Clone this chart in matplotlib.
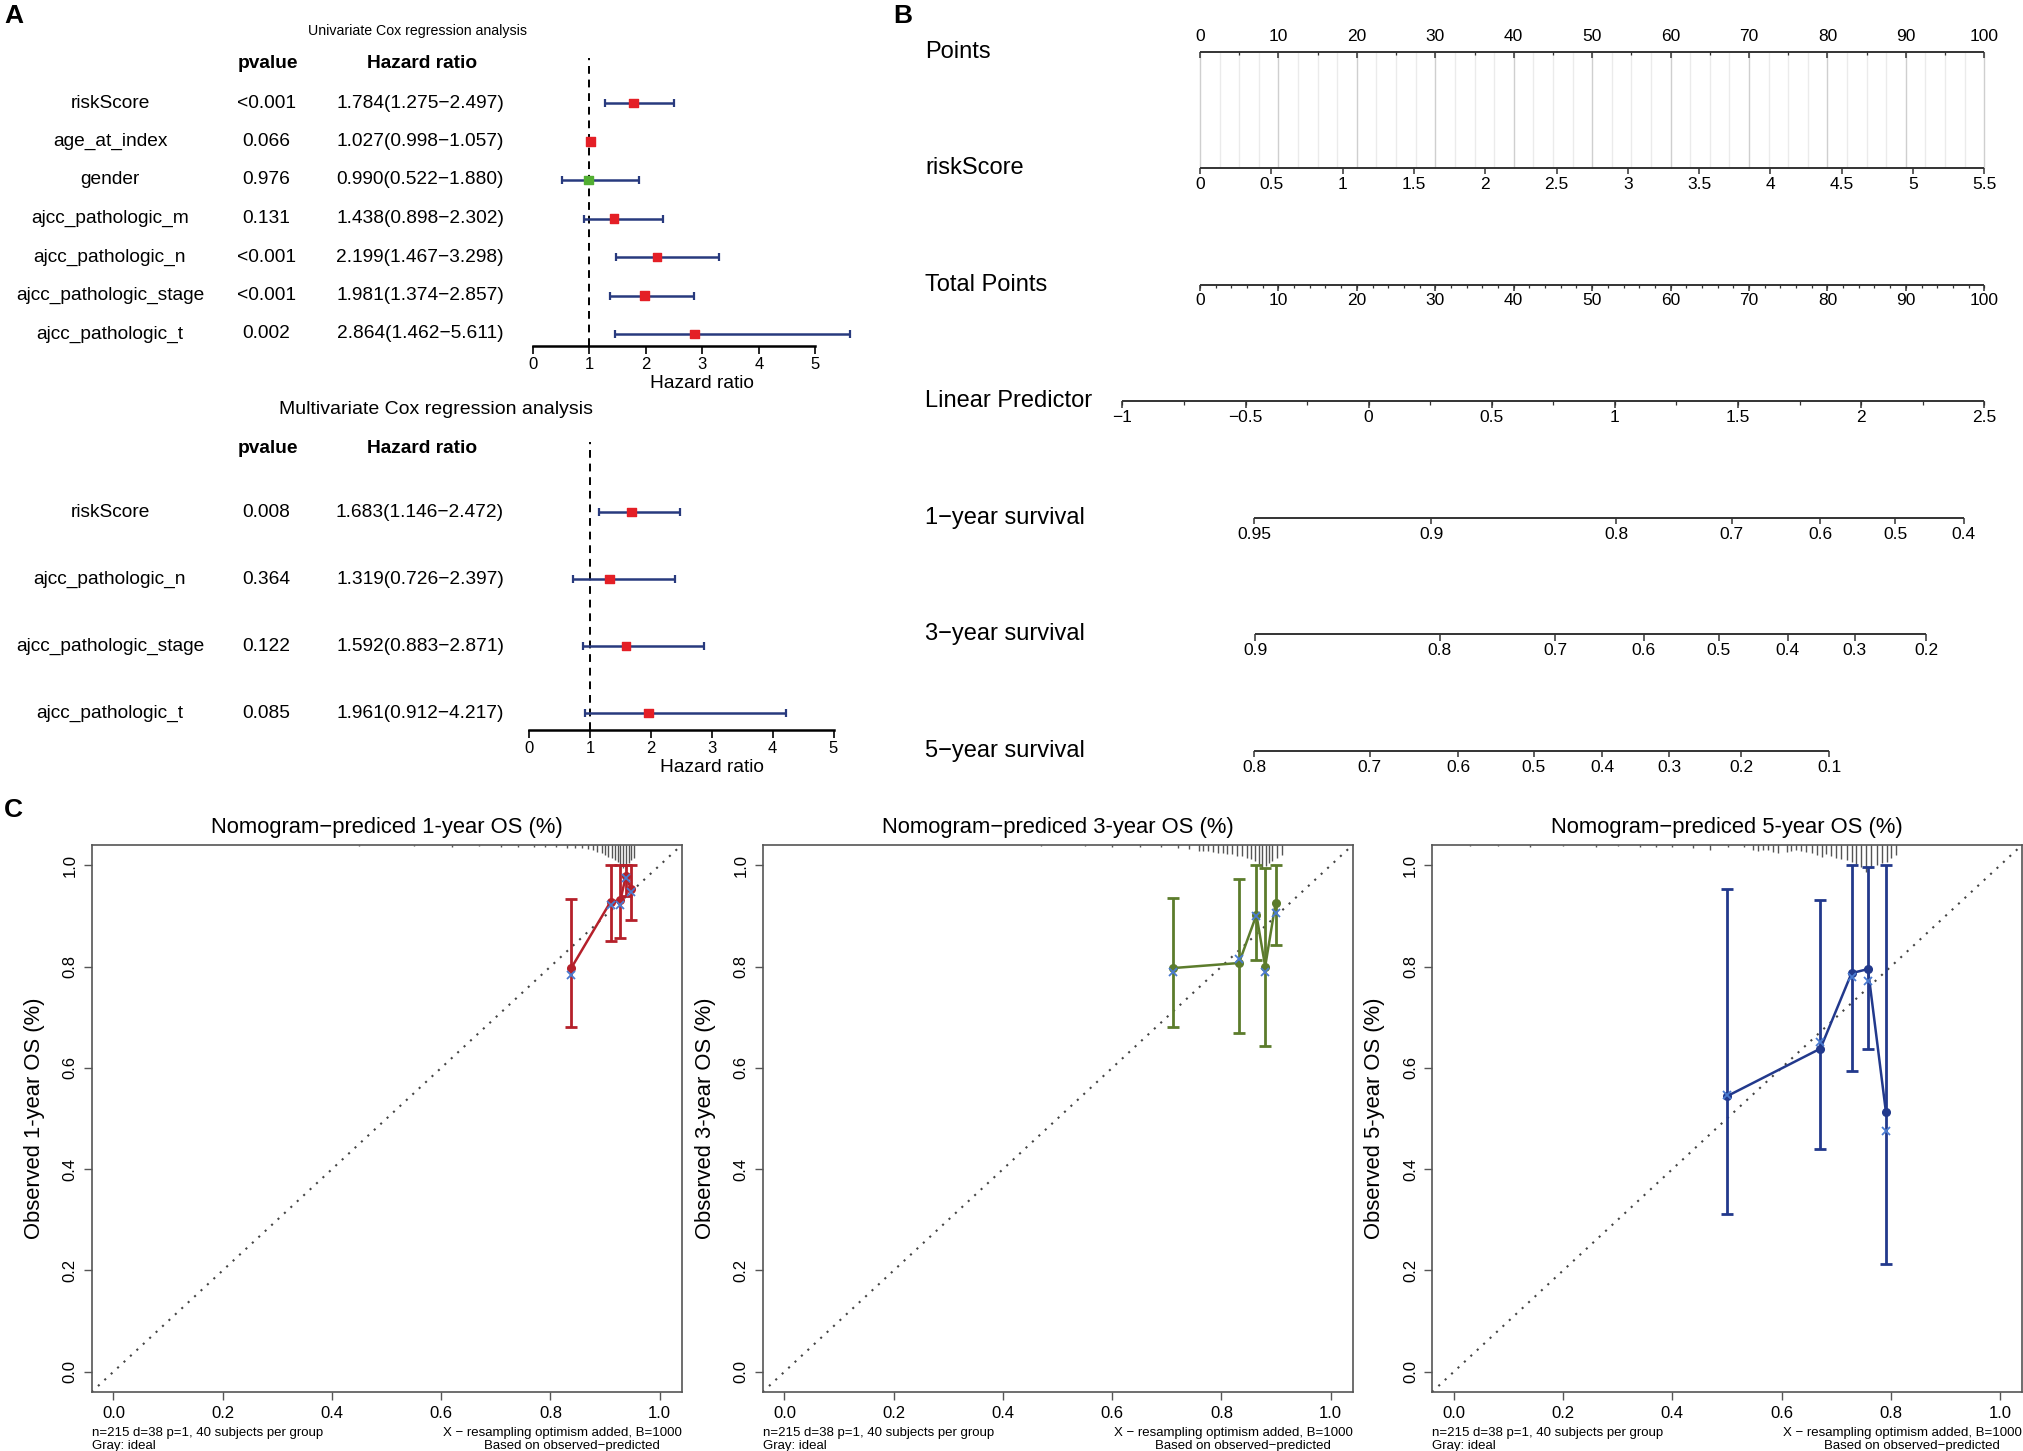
import numpy as np
import matplotlib
matplotlib.use('Agg')
import matplotlib.pyplot as plt
from matplotlib import transforms

plt.rcParams['font.family'] = ['Liberation Sans', 'DejaVu Sans']

W, H = 2023, 1451

# ---------------- panel A data (forest plots)
uni_vars = ['riskScore', 'age_at_index', 'gender', 'ajcc_pathologic_m',
            'ajcc_pathologic_n', 'ajcc_pathologic_stage', 'ajcc_pathologic_t']
uni_p = ['<0.001', '0.066', '0.976', '0.131', '<0.001', '<0.001', '0.002']
uni_hr = [1.784, 1.027, 0.990, 1.438, 2.199, 1.981, 2.864]
uni_lo = [1.275, 0.998, 0.522, 0.898, 1.467, 1.374, 1.462]
uni_hi = [2.497, 1.057, 1.880, 2.302, 3.298, 2.857, 5.611]

multi_vars = ['riskScore', 'ajcc_pathologic_n', 'ajcc_pathologic_stage', 'ajcc_pathologic_t']
multi_p = ['0.008', '0.364', '0.122', '0.085']
multi_hr = [1.683, 1.319, 1.592, 1.961]
multi_lo = [1.146, 0.726, 0.883, 0.912]
multi_hi = [2.472, 2.397, 2.871, 4.217]

# ---------------- panel B data (nomogram)
points_ticks = [0, 10, 20, 30, 40, 50, 60, 70, 80, 90, 100]
risk_ticks = [0, 0.5, 1, 1.5, 2, 2.5, 3, 3.5, 4, 4.5, 5, 5.5]
risk_max = 5.5
total_ticks = [0, 10, 20, 30, 40, 50, 60, 70, 80, 90, 100]
lp_ticks = [-1, -0.5, 0, 0.5, 1, 1.5, 2, 2.5]
lp_at_0, lp_at_100 = -0.685, 2.5
surv1_ticks = [0.95, 0.9, 0.8, 0.7, 0.6, 0.5, 0.4]
surv3_ticks = [0.9, 0.8, 0.7, 0.6, 0.5, 0.4, 0.3, 0.2]
surv5_ticks = [0.8, 0.7, 0.6, 0.5, 0.4, 0.3, 0.2, 0.1]
base_surv = {1: 0.92155, 3: 0.84606, 5: 0.70123}

# ---------------- panel C data (calibration)
pred1 = [0.838, 0.910, 0.928, 0.938, 0.947]
obs1 = [0.797, 0.928, 0.931, 0.979, 0.954]
corr1 = [0.784, 0.921, 0.922, 0.974, 0.947]
lo1 = [0.680, 0.851, 0.856, 0.940, 0.891]
hi1 = [0.934, 1.0, 1.0, 1.0, 1.0]
rug1_x = [0.45, 0.55, 0.62, 0.67, 0.71, 0.74, 0.77, 0.79, 0.81, 0.83, 0.845, 0.857, 0.868,
          0.878, 0.886, 0.894, 0.900, 0.906, 0.912, 0.918, 0.923, 0.928, 0.933, 0.938,
          0.943, 0.948, 0.953]
rug1_h = [0.002, 0.002, 0.003, 0.002, 0.003, 0.003, 0.004, 0.003, 0.004, 0.005, 0.005, 0.006,
          0.007, 0.010, 0.013, 0.016, 0.020, 0.023, 0.026, 0.030, 0.033, 0.039, 0.046, 0.046,
          0.036, 0.030, 0.026]

pred3 = [0.711, 0.832, 0.864, 0.880, 0.899]
obs3 = [0.797, 0.807, 0.902, 0.800, 0.925]
corr3 = [0.790, 0.814, 0.899, 0.790, 0.906]
lo3 = [0.680, 0.669, 0.813, 0.643, 0.842]
hi3 = [0.935, 0.973, 1.0, 0.995, 1.0]
rug3_x = [0.47, 0.55, 0.60, 0.65, 0.69, 0.72, 0.74, 0.759, 0.767, 0.776, 0.784, 0.793, 0.802,
          0.811, 0.820, 0.829, 0.838, 0.847, 0.854, 0.862, 0.869, 0.875, 0.881, 0.887,
          0.893, 0.902, 0.910]
rug3_h = [0.002, 0.002, 0.003, 0.003, 0.004, 0.005, 0.007, 0.012, 0.011, 0.012, 0.013, 0.015,
          0.015, 0.017, 0.018, 0.022, 0.022, 0.025, 0.028, 0.032, 0.038, 0.048, 0.041,
          0.035, 0.032, 0.025, 0.020]

pred5 = [0.500, 0.671, 0.728, 0.758, 0.791]
obs5 = [0.544, 0.638, 0.787, 0.795, 0.512]
corr5 = [0.546, 0.652, 0.779, 0.771, 0.476]
lo5 = [0.312, 0.440, 0.593, 0.638, 0.212]
hi5 = [0.953, 0.932, 1.0, 0.996, 1.0]
rug5_x = [0.03, 0.08, 0.14, 0.20, 0.26, 0.30, 0.34, 0.37, 0.40, 0.438, 0.468, 0.502, 0.532,
          0.548, 0.557, 0.566, 0.575, 0.584, 0.593, 0.609, 0.618, 0.627, 0.636, 0.645,
          0.655, 0.664, 0.673, 0.682, 0.691, 0.700, 0.709, 0.719, 0.728, 0.737, 0.746,
          0.755, 0.764, 0.774, 0.783, 0.792, 0.801, 0.810]
rug5_h = [0.002, 0.002, 0.003, 0.002, 0.003, 0.002, 0.003, 0.003, 0.004, 0.005, 0.009, 0.003,
          0.003, 0.010, 0.012, 0.010, 0.009, 0.013, 0.016, 0.013, 0.011, 0.010, 0.011, 0.013,
          0.016, 0.020, 0.023, 0.018, 0.022, 0.026, 0.028, 0.030, 0.033, 0.038, 0.043,
          0.053, 0.046, 0.039, 0.036, 0.033, 0.026, 0.020]

footer_left = 'n=215 d=38 p=1, 40 subjects per group'
footer_right = 'X \u2212 resampling optimism added, B=1000'

fig = plt.figure(figsize=(W / 100, H / 100), dpi=100)


def fx(px):
    return px / W


def fy(py):
    return 1 - py / H


# ================= panel A =================
def forest(names, pvals, hr, lo, hi, x0, pxu, row0, step, axis_py, top_py,
           title, title_px, title_py, title_size):
    ax = fig.add_axes([fx(x0), fy(axis_py), 6 * pxu / W, (axis_py - top_py) / H])
    ax.set_xlim(0, 6)
    ax.set_ylim((axis_py - row0) / step, (top_py - row0) / step)
    rows = np.arange(len(names))
    ax.axvline(1, color='black', ls=(0, (4, 3)), lw=1.4)
    hr = np.array(hr)
    lo = np.array(lo)
    hi = np.array(hi)
    ax.errorbar(hr, rows, xerr=[hr - lo, hi - hr], fmt='none', ecolor='#283A7E',
                elinewidth=1.8, capsize=3.2, capthick=1.6, clip_on=False)
    cols = ['#E41F26' if v > 1 else '#52AE32' for v in hr]
    ax.scatter(hr, rows, marker='s', s=40, c=cols, zorder=3, clip_on=False)
    for s in ['top', 'right', 'left']:
        ax.spines[s].set_visible(False)
    ax.spines['bottom'].set_bounds(0, 5)
    ax.spines['bottom'].set_linewidth(1.8)
    ax.set_yticks([])
    ax.set_xticks([0, 1, 2, 3, 4, 5])
    ax.tick_params(axis='x', direction='out', length=6, width=1.2, labelsize=12, pad=2)
    ax.set_xlabel('Hazard ratio', fontsize=13.8, labelpad=2)
    ax.patch.set_alpha(0)

    trans = transforms.blended_transform_factory(fig.transFigure, ax.transData)
    for i in rows:
        ax.text(fx(110), i, names[i], transform=trans, ha='center', va='center', fontsize=13.8)
        ax.text(fx(266), i, pvals[i], transform=trans, ha='center', va='center', fontsize=13.8)
        txt = f'{hr[i]:.3f}({lo[i]:.3f}\u2212{hi[i]:.3f})'
        ax.text(fx(420), i, txt, transform=trans, ha='center', va='center', fontsize=13.8)
    hdr = (top_py + 6 - row0) / step
    ax.text(fx(268), hdr, 'pvalue', transform=trans, ha='center', va='center',
            fontsize=13.8, weight='bold')
    ax.text(fx(422), hdr, 'Hazard ratio', transform=trans, ha='center', va='center',
            fontsize=13.8, weight='bold')
    ax.text(fx(title_px), (title_py - row0) / step, title, transform=trans,
            ha='center', va='center', fontsize=title_size)


forest(uni_vars, uni_p, uni_hr, uni_lo, uni_hi, 532.8, 56.5, 103, 38.5, 346, 58,
       'Univariate Cox regression analysis', 418, 31, 10.2)
forest(multi_vars, multi_p, multi_hr, multi_lo, multi_hi, 529, 60.9, 512, 67, 730, 442,
       'Multivariate Cox regression analysis', 436, 409, 14)

# ================= panel B =================
bx0, bpxu = 1200, 7.843
brow0, bstep = 51.5, 116.55
axb = fig.add_axes([fx(900), fy(790), fx(2018) - fx(900), 790 / H])
axb.set_xlim((900 - bx0) / bpxu, (2018 - bx0) / bpxu)
axb.set_ylim((790 - brow0) / bstep, (0 - brow0) / bstep)
axb.axis('off')


def lp_to_pts(lp):
    return (np.array(lp, dtype=float) - lp_at_0) / (lp_at_100 - lp_at_0) * 100


def surv_to_pts(s, yr):
    s = np.array(s, dtype=float)
    return lp_to_pts(np.log(np.log(s) / np.log(base_surv[yr])))


def fmt(v):
    return f'{v:g}'.replace('-', '\u2212')


# grid between Points and riskScore
for p in np.arange(0, 100.01, 2.5):
    c = '#cfcfcf' if p % 10 == 0 else '#ebebeb'
    axb.vlines(p, 0, 1, color=c, lw=1.0, zorder=0)


def scale(row, name, pos, labels, minor=None, above=False):
    pos = np.array(pos, dtype=float)
    axb.plot([pos.min(), pos.max()], [row, row], color='#333333', lw=1.4,
             solid_capstyle='butt')
    axb.vlines(pos, row, row + 0.055, color='#333333', lw=1.1)
    if minor is not None:
        axb.vlines(minor, row, row + 0.03, color='#333333', lw=0.9)
    ly = row - 0.13 if above else row + 0.14
    for p, l in zip(pos, labels):
        axb.text(p, ly, l, ha='center', va='center', fontsize=12.5)
    axb.text((925 - bx0) / bpxu, row, name, ha='left', va='center', fontsize=17)


scale(0, 'Points', points_ticks, [fmt(v) for v in points_ticks],
      minor=np.arange(5, 100, 10), above=True)
scale(1, 'riskScore', np.array(risk_ticks) / risk_max * 100, [fmt(v) for v in risk_ticks])
scale(2, 'Total Points', total_ticks, [fmt(v) for v in total_ticks],
      minor=np.arange(0, 100.01, 2))
scale(3, 'Linear Predictor', lp_to_pts(lp_ticks), [fmt(v) for v in lp_ticks],
      minor=lp_to_pts(np.arange(-1, 2.51, 0.25)))
scale(4, '1\u2212year survival', surv_to_pts(surv1_ticks, 1), [fmt(v) for v in surv1_ticks])
scale(5, '3\u2212year survival', surv_to_pts(surv3_ticks, 3), [fmt(v) for v in surv3_ticks])
scale(6, '5\u2212year survival', surv_to_pts(surv5_ticks, 5), [fmt(v) for v in surv5_ticks])

# ================= panel C =================
cal = [
    ('1', pred1, obs1, corr1, lo1, hi1, rug1_x, rug1_h, '#B5202A', 91.6),
    ('3', pred3, obs3, corr3, lo3, hi3, rug3_x, rug3_h, '#5C7C2C', 762.6),
    ('5', pred5, obs5, corr5, lo5, hi5, rug5_x, rug5_h, '#22398C', 1432),
]
ticks = [0, 0.2, 0.4, 0.6, 0.8, 1.0]
for yr, pred, obs, corr, lo, hi, rx, rh, col, left in cal:
    ax = fig.add_axes([fx(left), fy(1392), 590 / W, 547 / H])
    ax.set_xlim(-0.04, 1.04)
    ax.set_ylim(-0.04, 1.04)
    ax.plot([-0.04, 1.04], [-0.04, 1.04], ls=(0, (1, 3.2)), color='#444444', lw=1.5)
    ax.vlines(rx, 1.04 - np.array(rh), 1.04, color='#555555', lw=1.0)
    pred = np.array(pred)
    obs = np.array(obs)
    ax.errorbar(pred, obs, yerr=[obs - np.array(lo), np.array(hi) - obs], fmt='none',
                ecolor=col, elinewidth=2, capsize=4, capthick=2)
    ax.plot(pred, obs, '-o', color=col, lw=1.8, ms=5.5)
    ax.plot(pred, corr, 'x', color='#4A7BD0', ms=6, mew=1.3)
    ax.set_xticks(ticks)
    ax.set_xticklabels([f'{t:.1f}' for t in ticks])
    ax.set_yticks(ticks)
    ax.set_yticklabels([f'{t:.1f}' for t in ticks], rotation=90, va='center')
    ax.tick_params(direction='out', length=6, width=1.0, labelsize=12, color='#555555',
                   pad=4)
    for s in ax.spines.values():
        s.set_color('#555555')
        s.set_linewidth(1.2)
    ax.set_title(f'Nomogram\u2212prediced {yr}-year OS (%)', fontsize=15.8, pad=9)
    ax.set_ylabel(f'Observed {yr}-year OS (%)', fontsize=15.8, labelpad=13)
    fig.text(fx(left), fy(1433), footer_left, ha='left', va='center', fontsize=9.5)
    fig.text(fx(left), fy(1446), 'Gray: ideal', ha='left', va='center', fontsize=9.5)
    fig.text(fx(left + 590), fy(1433), footer_right, ha='right', va='center', fontsize=9.5)
    fig.text(fx(left + 568), fy(1446), 'Based on observed\u2212predicted', ha='right',
             va='center', fontsize=9.5)

# panel letters
fig.text(fx(4), fy(16), 'A', fontsize=19, weight='bold', va='center')
fig.text(fx(893), fy(16), 'B', fontsize=19, weight='bold', va='center')
fig.text(fx(4), fy(810), 'C', fontsize=19, weight='bold', va='center')

fig.savefig('out.png', dpi=100)
